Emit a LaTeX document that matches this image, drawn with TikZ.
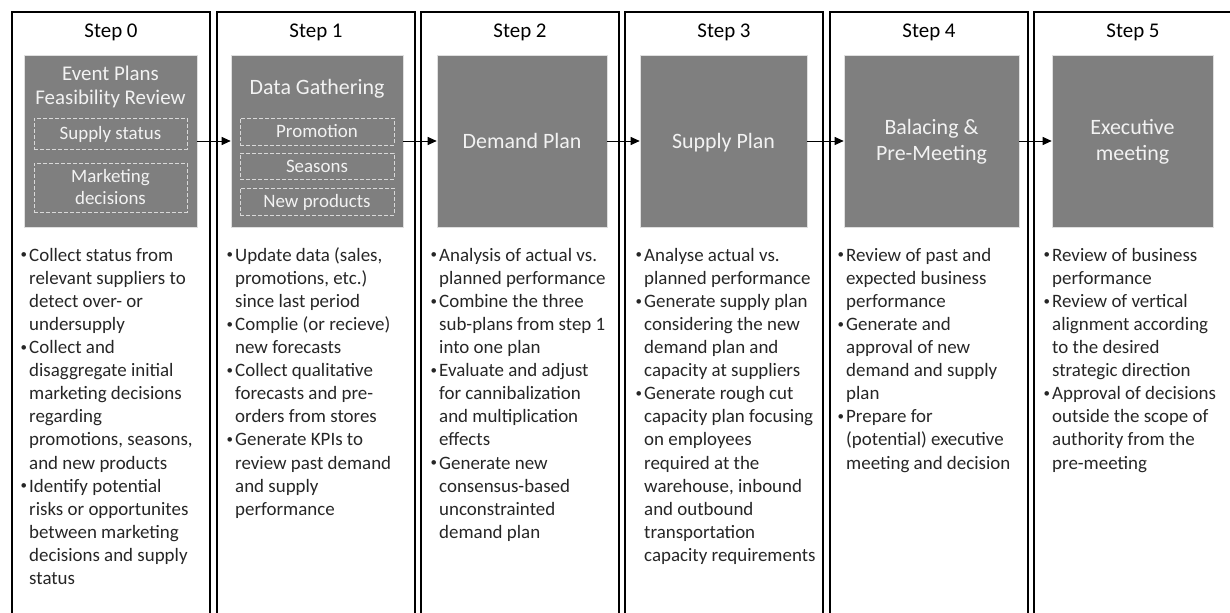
\documentclass[tikz,border=0pt]{standalone}
\usepackage{fontspec}
\setmainfont{Carlito}
\usetikzlibrary{arrows.meta}
\definecolor{boxgray}{HTML}{7F7F7F}
\definecolor{boxtext}{HTML}{F2F2F2}
\definecolor{dashgray}{HTML}{D9D9D9}
\definecolor{bodytext}{HTML}{262626}
\newcommand\bitem{\makebox[9bp][l]{\hspace*{0.5bp}\raisebox{2.3bp}{\fontsize{13}{13}\selectfont •}}}
\newcommand\bcont{\hspace*{9bp}}
\begin{document}
\begin{tikzpicture}[x=1bp,y=-1bp,
  frame/.style={line width=1.3bp, black},
  graybox/.style={draw=white!75!boxgray, line width=0.6bp, fill=boxgray, inner sep=0pt, minimum height=172bp},
  boxtitle/.style={text=boxtext, font=\fontsize{22}{26}\selectfont, inner sep=0pt},
  steptitle/.style={text=black, font=\fontsize{21}{25}\selectfont, inner sep=0pt},
  subbox/.style={draw=dashgray, dash pattern=on 4bp off 2bp, line width=0.9bp, inner sep=0pt},
  subtext/.style={text=boxtext, font=\fontsize{19}{22}\selectfont, inner sep=0pt},
  bullets/.style={text=bodytext, font=\fontsize{19}{23.2}\selectfont, align=left, inner sep=0pt, anchor=north west},
  arr/.style={-{Triangle[length=9bp,width=8bp]}, line width=0.9bp, black}
]
\useasboundingbox (0,0) rectangle (1230,613);
% column frames
\foreach \l in {12,217,421,625,830,1034}{
  \draw[frame] (\l,625) -- (\l,12) -- ({\l+198},12) -- ({\l+198},625);
}
% step titles
\node[steptitle, anchor=base] (h0) at (111,38) {Step 0};
\node[steptitle, anchor=base] (h1) at (316,38) {Step 1};
\node[steptitle, anchor=base] (h2) at (520,38) {Step 2};
\node[steptitle, anchor=base] (h3) at (724,38) {Step 3};
\node[steptitle, anchor=base] (h4) at (929,38) {Step 4};
\node[steptitle, anchor=base] (h5) at (1133,38) {Step 5};
% gray boxes
\node[graybox, minimum width=173bp] (g0) at (110.5,141) {};
\node[graybox, minimum width=172bp] (g1) at (317,141) {};
\node[graybox, minimum width=170bp] (g2) at (522,141) {};
\node[graybox, minimum width=167bp] (g3) at (723.5,141) {};
\node[graybox, minimum width=175bp] (g4) at (931.5,141) {};
\node[graybox, minimum width=161bp] (g5) at (1132.5,141) {};
% step 0 box content
\node[boxtitle, anchor=base, font=\fontsize{21}{25}\selectfont] (t0a) at (110.5,81) {Event Plans};
\node[boxtitle, anchor=base, font=\fontsize{21}{25}\selectfont] (t0b) at (110.5,105) {Feasibility Review};
\node[subbox, minimum width=153bp, minimum height=31bp] (s0a) at (110.5,133.5) {};
\node[subtext, anchor=base] (s0at) at (110.5,140) {Supply status};
\node[subbox, minimum width=153bp, minimum height=49bp] (s0b) at (110.5,187.5) {};
\node[subtext, anchor=base] (s0bt1) at (110.5,183) {Marketing};
\node[subtext, anchor=base] (s0bt2) at (110.5,205) {decisions};
% step 1 box content
\node[boxtitle, anchor=base] (t1) at (317,95) {Data Gathering};
\node[subbox, minimum width=154bp, minimum height=27bp] (s1a) at (317,131.5) {};
\node[subtext, anchor=base] (s1at) at (317,138) {Promotion};
\node[subbox, minimum width=154bp, minimum height=26bp] (s1b) at (317,166) {};
\node[subtext, anchor=base] (s1bt) at (317,172.5) {Seasons};
\node[subbox, minimum width=154bp, minimum height=27bp] (s1c) at (317,201.5) {};
\node[subtext, anchor=base] (s1ct) at (317,208) {New products};
% other box titles
\node[boxtitle, anchor=base] (t2) at (522,149) {Demand Plan};
\node[boxtitle, anchor=base] (t3) at (723.5,149) {Supply Plan};
\node[boxtitle, anchor=base] (t4a) at (931.5,135) {Balacing \&};
\node[boxtitle, anchor=base] (t4b) at (931.5,161) {Pre-Meeting};
\node[boxtitle, anchor=base] (t5a) at (1132.5,135) {Executive};
\node[boxtitle, anchor=base] (t5b) at (1132.5,161) {meeting};
% arrows
\draw[arr] (g0.east) -- (g1.west);
\draw[arr] (g1.east) -- (g2.west);
\draw[arr] (g2.east) -- (g3.west);
\draw[arr] (g3.east) -- (g4.west);
\draw[arr] (g4.east) -- (g5.west);
% bullet lists
\node[bullets] (b0) at (20,244.7) {\strut\bitem Collect status from\\ \bcont relevant suppliers to\\ \bcont detect over- or\\ \bcont undersupply\\
\bitem Collect and\\ \bcont disaggregate initial\\ \bcont marketing decisions\\ \bcont regarding\\ \bcont promotions, seasons,\\ \bcont and new products\\
\bitem Identify potential\\ \bcont risks or opportunites\\ \bcont between marketing\\ \bcont decisions and supply\\ \bcont status};
\node[bullets] (b1) at (226,244.7) {\strut\bitem Update data (sales,\\ \bcont promotions, etc.)\\ \bcont since last period\\
\bitem Complie (or recieve)\\ \bcont new forecasts\\
\bitem Collect qualitative\\ \bcont forecasts and pre-\\ \bcont orders from stores\\
\bitem Generate KPIs to\\ \bcont review past demand\\ \bcont and supply\\ \bcont performance};
\node[bullets] (b2) at (430,244.7) {\strut\bitem Analysis of actual vs.\\ \bcont planned performance\\
\bitem Combine the three\\ \bcont sub-plans from step 1\\ \bcont into one plan\\
\bitem Evaluate and adjust\\ \bcont for cannibalization\\ \bcont and multiplication\\ \bcont effects\\
\bitem Generate new\\ \bcont consensus-based\\ \bcont unconstrainted\\ \bcont demand plan};
\node[bullets] (b3) at (635,244.7) {\strut\bitem Analyse actual vs.\\ \bcont planned performance\\
\bitem Generate supply plan\\ \bcont considering the new\\ \bcont demand plan and\\ \bcont capacity at suppliers\\
\bitem Generate rough cut\\ \bcont capacity plan focusing\\ \bcont on employees\\ \bcont required at the\\ \bcont warehouse, inbound\\ \bcont and outbound\\ \bcont transportation\\ \bcont capacity requirements};
\node[bullets] (b4) at (837,244.7) {\strut\bitem Review of past and\\ \bcont expected business\\ \bcont performance\\
\bitem Generate and\\ \bcont approval of new\\ \bcont demand and supply\\ \bcont plan\\
\bitem Prepare for\\ \bcont (potential) executive\\ \bcont meeting and decision};
\node[bullets] (b5) at (1043,244.7) {\strut\bitem Review of business\\ \bcont performance\\
\bitem Review of vertical\\ \bcont alignment according\\ \bcont to the desired\\ \bcont strategic direction\\
\bitem Approval of decisions\\ \bcont outside the scope of\\ \bcont authority from the\\ \bcont pre-meeting};
\end{tikzpicture}
\end{document}
